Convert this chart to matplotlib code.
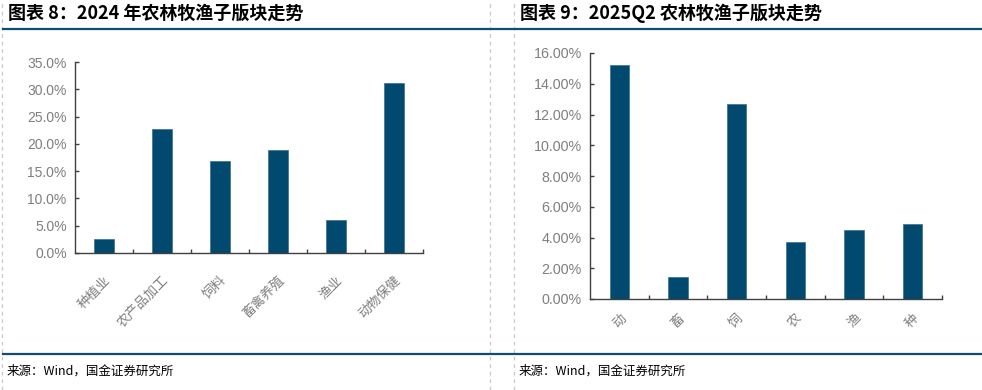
import matplotlib.pyplot as plt
from matplotlib.lines import Line2D
from matplotlib.ticker import FuncFormatter

plt.rcParams['font.family'] = ['Liberation Sans', 'Noto Sans CJK SC', 'DejaVu Sans']

# 图表 8 数据
cats_2024 = ['种植业', '农产品加工', '饲料', '畜禽养殖', '渔业', '动物保健']
vals_2024 = [2.6, 22.7, 16.8, 18.9, 6.0, 31.2]

# 图表 9 数据
cats_q2 = ['动', '畜', '饲', '农', '渔', '种']
vals_q2 = [15.24, 1.45, 12.70, 3.70, 4.52, 4.87]

bar_c = '#01496e'
line_c = '#0d4f6e'
txt_c = '#7f7f7f'
cjk = ['Noto Sans CJK SC', 'DejaVu Sans']

fig = plt.figure(figsize=(9.82, 3.90), dpi=100)
W, H = 982, 390


def fx(px):
    return px / W


def fy(py):
    return 1 - py / H


# 虚线分隔
for x in [2, 490, 514]:
    fig.add_artist(Line2D([fx(x), fx(x)], [0, 1], color='#c8c8c8', lw=0.9,
                          ls=(0, (3, 3)), transform=fig.transFigure))
# 蓝色横线
for y in [28.5, 354]:
    fig.add_artist(Line2D([fx(3), 1], [fy(y), fy(y)], color=line_c, lw=1.6,
                          transform=fig.transFigure))

fig.text(fx(8), fy(13), '图表 8：2024 年农林牧渔子版块走势', family=cjk,
         fontsize=13, fontweight='bold', style='italic', va='center')
fig.text(fx(520), fy(13), '图表 9：2025Q2 农林牧渔子版块走势', family=cjk,
         fontsize=13, fontweight='bold', style='italic', va='center')
fig.text(fx(7), fy(371), '来源：Wind，国金证券研究所', family=cjk,
         fontsize=9, va='center')
fig.text(fx(519), fy(371), '来源：Wind，国金证券研究所', family=cjk,
         fontsize=9, va='center')


def draw(ax, cats, vals, ymax, step, fmt, xpad, ysize):
    n = len(cats)
    x = list(range(n))
    ax.bar(x, vals, width=0.33, color=bar_c, edgecolor='#3a6f8c', linewidth=0.5)
    ax.set_xlim(-0.5, n - 0.5)
    ax.set_ylim(0, ymax)
    ax.set_yticks([i * step for i in range(int(round(ymax / step)) + 1)])
    ax.yaxis.set_major_formatter(FuncFormatter(lambda v, p: fmt.format(v)))
    ax.set_xticks(x)
    ax.set_xticklabels(cats, rotation=45, ha='right', rotation_mode='anchor',
                       family=cjk, fontsize=9.5, color=txt_c)
    ax.set_xticks([i + 0.5 for i in range(n)], minor=True)
    ax.tick_params(axis='x', which='major', length=0, pad=xpad)
    ax.tick_params(axis='x', which='minor', direction='in', length=3,
                   width=1, color='#404040')
    ax.tick_params(axis='y', direction='in', length=3, width=1,
                   color='#404040', labelsize=ysize, labelcolor=txt_c, pad=6)
    for s in ['top', 'right']:
        ax.spines[s].set_visible(False)
    for s in ['left', 'bottom']:
        ax.spines[s].set_color('#404040')
        ax.spines[s].set_linewidth(1)


ax1 = fig.add_axes([fx(75), fy(253), fx(348), 191 / H])
draw(ax1, cats_2024, vals_2024, 35, 5, '{:.1f}%', 15, 10)

ax2 = fig.add_axes([fx(590), fy(299), fx(352), 246 / H])
draw(ax2, cats_q2, vals_q2, 16, 2, '{:.2f}%', 9, 10.3)

fig.savefig('out.png', dpi=100)
